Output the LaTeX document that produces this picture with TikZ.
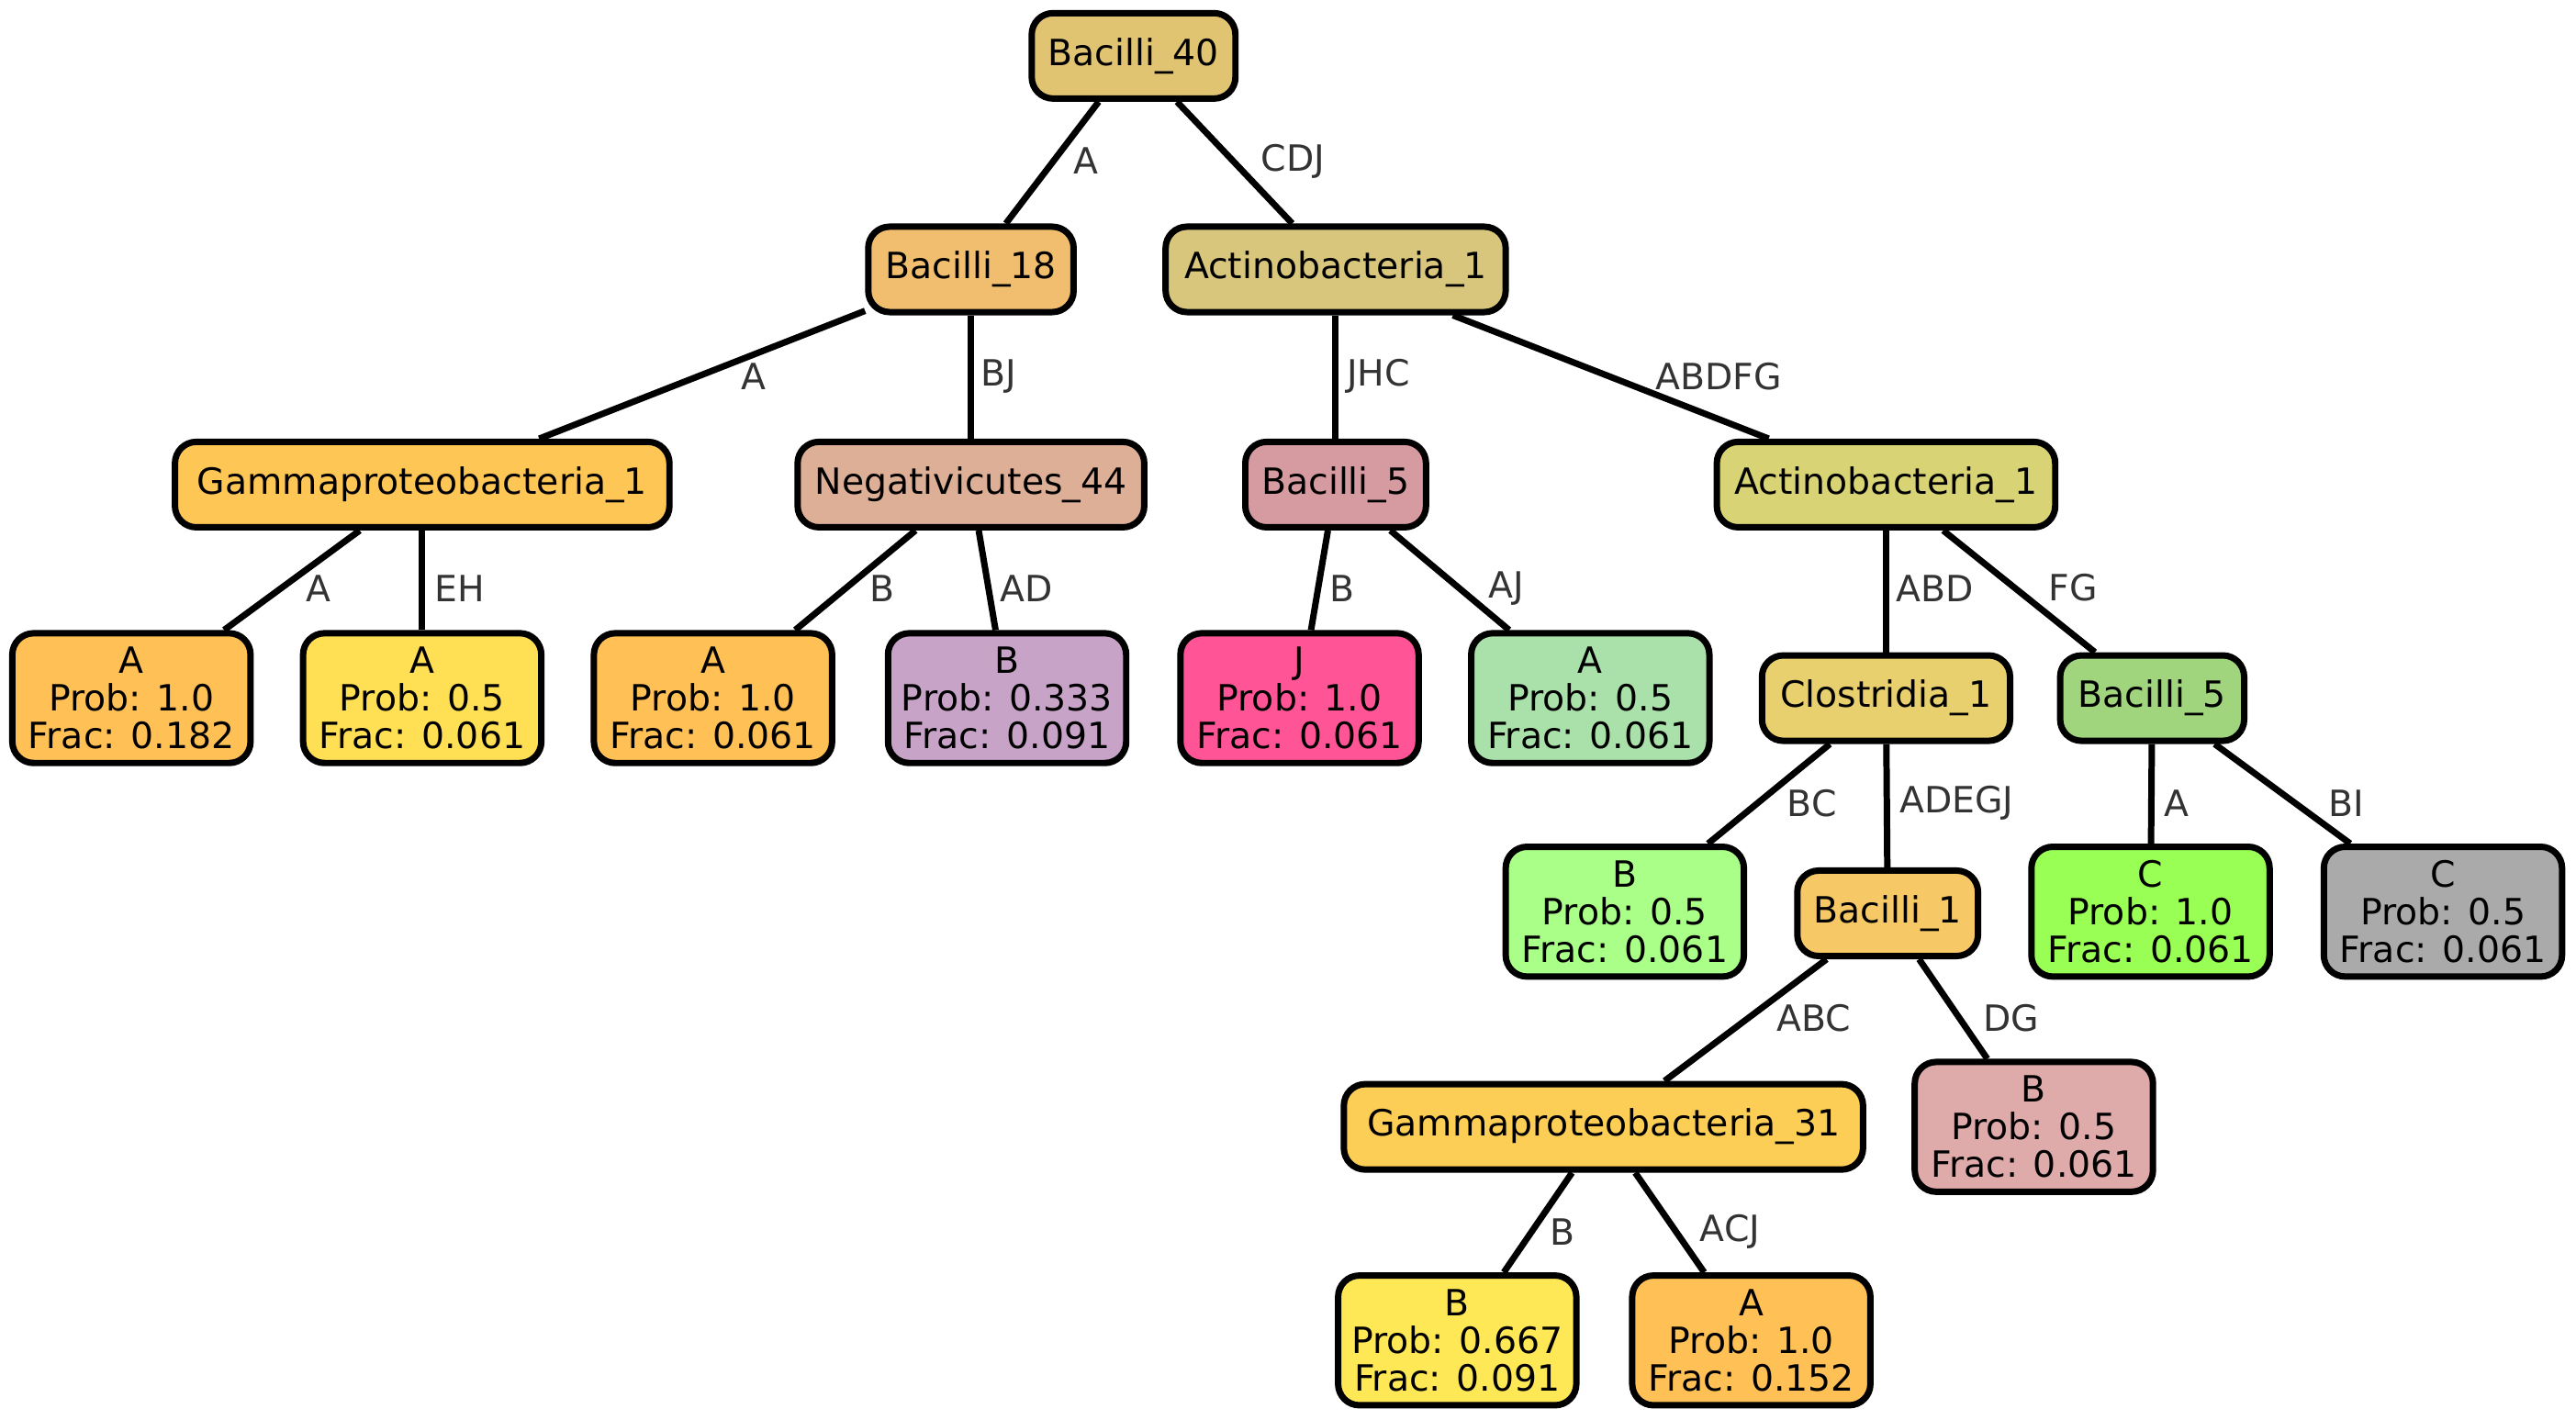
\documentclass[tikz,border=0pt]{standalone}
\usepackage{fontspec}
\setmainfont{DejaVu Sans}
\definecolor{cB40}{HTML}{E1C472}
\definecolor{cB18}{HTML}{F0BE6E}
\definecolor{cAct}{HTML}{D8C67C}
\definecolor{cGam}{HTML}{FEC655}
\definecolor{cNeg}{HTML}{DEAF97}
\definecolor{cB5p}{HTML}{D59BA0}
\definecolor{cAct2}{HTML}{D8D374}
\definecolor{cLA}{HTML}{FFC155}
\definecolor{cLY}{HTML}{FFE055}
\definecolor{cLV}{HTML}{C6A3C7}
\definecolor{cLJ}{HTML}{FF5596}
\definecolor{cLG}{HTML}{AAE0AA}
\definecolor{cClo}{HTML}{E9D06E}
\definecolor{cB5g}{HTML}{A0D47D}
\definecolor{cLBg}{HTML}{AAFF88}
\definecolor{cB1}{HTML}{F6C866}
\definecolor{cLC}{HTML}{99FF55}
\definecolor{cGray}{HTML}{AAAAAA}
\definecolor{cG31}{HTML}{FDCE55}
\definecolor{cLBp}{HTML}{DEAAAA}
\definecolor{cLY2}{HTML}{FFE855}
\begin{document}
\begin{tikzpicture}[x=1pt,y=-1pt,
  box/.style={draw=black, line width=3.9pt, rounded corners=13pt, align=center,
    inner sep=0pt, font=\fontsize{22}{23}\selectfont},
  inner/.style={box, minimum height=52pt},
  leaf/.style={box, minimum width=145pt, minimum height=79pt},
  edge/.style={line width=3.9pt},
  elabel/.style={text=black!80, font=\fontsize{22}{23}\selectfont, inner sep=0pt}]

\useasboundingbox (0,0) rectangle (1568,864);

% internal nodes
\node[inner, fill=cB40, minimum width=124pt] (b40) at (690,34) {Bacilli\_40};
\node[inner, fill=cB18, minimum width=125pt] (b18) at (591,164) {Bacilli\_18};
\node[inner, fill=cAct, minimum width=207pt] (act1) at (813,164) {Actinobacteria\_1};
\node[inner, fill=cGam, minimum width=301pt] (gam1) at (257,295) {Gammaproteobacteria\_1};
\node[inner, fill=cNeg, minimum width=211pt] (neg44) at (591,295) {Negativicutes\_44};
\node[inner, fill=cB5p, minimum width=110pt] (b5p) at (813,295) {Bacilli\_5};
\node[inner, fill=cAct2, minimum width=206pt] (act2) at (1148,295) {Actinobacteria\_1};
\node[inner, fill=cClo, minimum width=151pt] (clo1) at (1148,425) {Clostridia\_1};
\node[inner, fill=cB5g, minimum width=112pt] (b5g) at (1310,425) {Bacilli\_5};
\node[inner, fill=cB1, minimum width=110pt] (b1) at (1149,556) {Bacilli\_1};
\node[inner, fill=cG31, minimum width=316pt] (gam31) at (976,686) {Gammaproteobacteria\_31};

% leaves
\node[leaf, fill=cLA] (l1) at (80,425) {A\\Prob: 1.0\\Frac: 0.182};
\node[leaf, fill=cLY] (l2) at (257,425) {A\\Prob: 0.5\\Frac: 0.061};
\node[leaf, fill=cLA] (l3) at (434,425) {A\\Prob: 1.0\\Frac: 0.061};
\node[leaf, fill=cLV] (l4) at (613,425) {B\\Prob: 0.333\\Frac: 0.091};
\node[leaf, fill=cLJ] (l5) at (791,425) {J\\Prob: 1.0\\Frac: 0.061};
\node[leaf, fill=cLG] (l6) at (968,425) {A\\Prob: 0.5\\Frac: 0.061};
\node[leaf, fill=cLBg] (l7) at (989,555) {B\\Prob: 0.5\\Frac: 0.061};
\node[leaf, fill=cLC] (l8) at (1309,555) {C\\Prob: 1.0\\Frac: 0.061};
\node[leaf, fill=cGray] (l9) at (1487,555) {C\\Prob: 0.5\\Frac: 0.061};
\node[leaf, fill=cLBp] (l10) at (1238,686) {B\\Prob: 0.5\\Frac: 0.061};
\node[leaf, fill=cLY2] (l11) at (887,816) {B\\Prob: 0.667\\Frac: 0.091};
\node[leaf, fill=cLA] (l12) at (1066,816) {A\\Prob: 1.0\\Frac: 0.152};

% connectors
\draw[edge] (b40) -- (b18);
\draw[edge] (b40) -- (act1);
\draw[edge] (b18) -- (gam1);
\draw[edge] (b18) -- (neg44);
\draw[edge] (act1) -- (b5p);
\draw[edge] (act1) -- (act2);
\draw[edge] (gam1) -- (l1);
\draw[edge] (gam1) -- (l2);
\draw[edge] (neg44) -- (l3);
\draw[edge] (neg44) -- (l4);
\draw[edge] (b5p) -- (l5);
\draw[edge] (b5p) -- (l6);
\draw[edge] (act2) -- (clo1);
\draw[edge] (act2) -- (b5g);
\draw[edge] (clo1) -- (l7);
\draw[edge] (clo1) -- (b1);
\draw[edge] (b5g) -- (l8);
\draw[edge] (b5g) -- (l9);
\draw[edge] (b1) -- (gam31);
\draw[edge] (b1) -- (l10);
\draw[edge] (gam31) -- (l11);
\draw[edge] (gam31) -- (l12);

% connector labels
\node[elabel] (t1) at (661,98) {A};
\node[elabel] (t2) at (787,98) {CDJ};
\node[elabel] (t3) at (459,229) {A};
\node[elabel] (t4) at (608,229) {BJ};
\node[elabel] (t5) at (839,229) {JHC};
\node[elabel] (t6) at (1046,229) {ABDFG};
\node[elabel] (t7) at (194,358) {A};
\node[elabel] (t8) at (280,358) {EH};
\node[elabel] (t9) at (537,358) {B};
\node[elabel] (t10) at (625,358) {AD};
\node[elabel] (t11) at (817,358) {B};
\node[elabel] (t12) at (917,358) {AJ};
\node[elabel] (t13) at (1178,358) {ABD};
\node[elabel] (t14) at (1262,358) {FG};
\node[elabel] (t15) at (1103,489) {BC};
\node[elabel] (t16) at (1191,489) {ADEGJ};
\node[elabel] (t17) at (1325,489) {A};
\node[elabel] (t18) at (1428,489) {BI};
\node[elabel] (t19) at (1104,620) {ABC};
\node[elabel] (t20) at (1224,620) {DG};
\node[elabel] (t21) at (951,750) {B};
\node[elabel] (t22) at (1053,750) {ACJ};
\end{tikzpicture}
\end{document}
